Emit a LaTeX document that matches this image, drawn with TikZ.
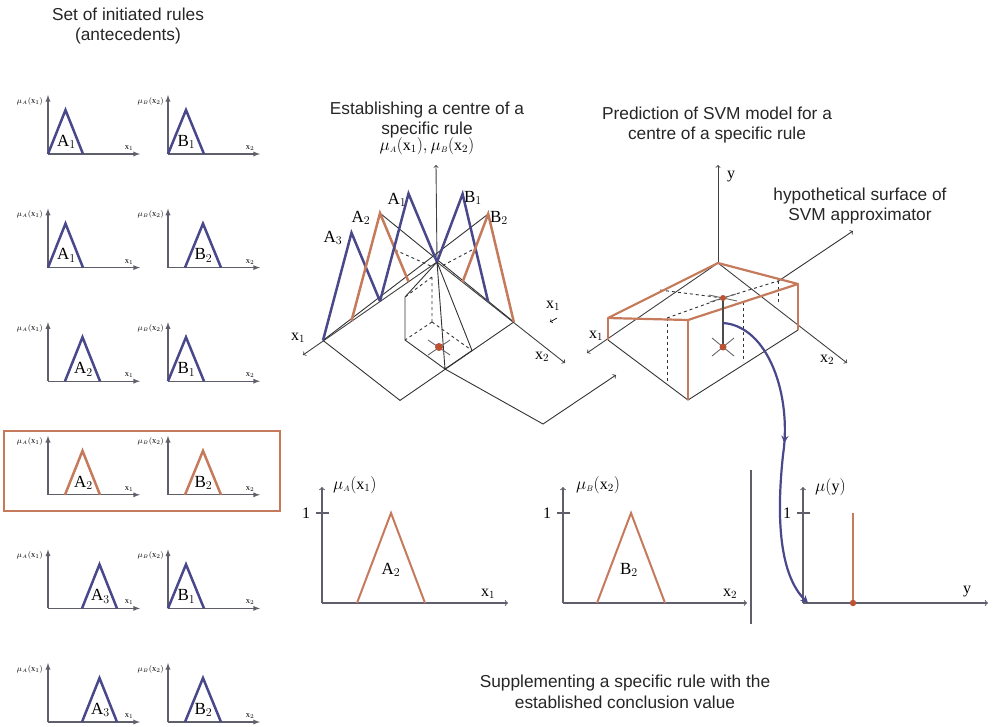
\documentclass[tikz,border=0pt]{standalone}
\usepackage{fontspec}
\setmainfont{Liberation Serif}
\newfontfamily\headfont{Liberation Sans}
\usetikzlibrary{arrows,positioning,calc,decorations.markings}
\definecolor{ruleblue}{RGB}{72,72,138}
\definecolor{rulebrown}{RGB}{198,122,92}
\definecolor{axisgray}{RGB}{95,95,108}
\definecolor{dotred}{RGB}{188,82,52}
\tikzset{
    head/.style={
        font=\headfont\fontsize{17.3}{20.5}\selectfont,
        align=center,
        text=black!85
    },
    smallaxis/.style={draw=axisgray, line width=1.3pt, -latex},
    bigaxis/.style={draw=axisgray, line width=1.1pt, -to},
    tick/.style={draw=axisgray, line width=1.1pt},
    axisthree/.style={draw=black!75, line width=0.9pt, -to},
    thinline/.style={draw=black!80, line width=0.9pt},
    hidden/.style={draw=black!80, line width=0.9pt, dash pattern=on 3pt off 3pt},
    memfun/.style={line width=2.5pt, line join=miter},
    surfline/.style={draw=rulebrown, line width=2.2pt, line join=round},
    tinylab/.style={font=\fontsize{8.5}{9}\selectfont, inner sep=0pt},
    trilab/.style={font=\fontsize{17}{17}\selectfont, inner sep=0pt},
    axlab/.style={font=\fontsize{16}{16}\selectfont, inner sep=0pt}
}

\begin{document}
\begin{tikzpicture}[x=1pt,y=-1pt]
\useasboundingbox (0,0) rectangle (993,726);

% Titles
\node[head] (rules-title) at (128,26) {Set of initiated rules\\(antecedents)};
\node[head] (centre-title) at (427,120) {Establishing a centre of a\\specific rule};
\node[head] (svm-title) at (717,125) {Prediction of SVM model for a\\centre of a specific rule};
\node[head] (surface-title) at (860,206) {hypothetical surface of\\SVM approximator};
\node[head] (supp-title) at (625,692) {Supplementing a specific rule with the\\established conclusion value};

% Antecedent panels
\foreach \i/\a/\b/\col in {1/1/1/ruleblue, 2/1/2/ruleblue, 3/2/1/ruleblue, 4/2/2/rulebrown, 5/3/1/ruleblue, 6/3/2/ruleblue}{
    \pgfmathsetmacro{\base}{154+113.6*(\i-1)}
    \pgfmathsetmacro{\ax}{48+17*(\a-1)}
    \pgfmathsetmacro{\bx}{168+17*(\b-1)}
    \draw[smallaxis] (48,\base) -- (48,\base-59);
    \draw[smallaxis] (48,\base) -- (140,\base);
    \draw[smallaxis] (168,\base) -- (168,\base-59);
    \draw[smallaxis] (168,\base) -- (260,\base);
    \draw[memfun, draw=\col] (\ax,\base) -- (\ax+17.5,\base-44) -- (\ax+35,\base);
    \draw[memfun, draw=\col] (\bx,\base) -- (\bx+18,\base-44) -- (\bx+36,\base);
    \node[trilab] (setA-\i) at (\ax+18.5,\base-12) {A$_{\a}$};
    \node[trilab] (setB-\i) at (\bx+18.5,\base-12) {B$_{\b}$};
    \node[tinylab, anchor=east] (muA-\i) at (43,\base-53) {$\mu_{\scriptscriptstyle A}(\mathrm{x}_1)$};
    \node[tinylab, anchor=east] (muB-\i) at (164,\base-53) {$\mu_{\scriptscriptstyle B}(\mathrm{x}_2)$};
    \node[tinylab] (xA-\i) at (129,\base-6) {x$_1$};
    \node[tinylab] (xB-\i) at (250,\base-6) {x$_2$};
}
\draw[draw=rulebrown, line width=2.4pt] (4,431) rectangle (280,511);

% Centre of the rule (3D)
\coordinate (o) at (437,262);
\coordinate (a1) at (408.5,281.6);
\coordinate (a2) at (380,301.2);
\coordinate (a3) at (351.5,320.8);
\coordinate (a4) at (323,340.4);
\coordinate (pa1) at (408.5,193.6);
\coordinate (pa2) at (380,213.2);
\coordinate (pa3) at (351.5,232.8);
\coordinate (b1) at (462.6,282);
\coordinate (b2) at (488.2,302);
\coordinate (b3) at (513.8,322);
\coordinate (pb1) at (462.6,194);
\coordinate (pb2) at (488.2,214);
\coordinate (floor) at (400,400.4);
\draw[axisthree] (o) -- (436,165);
\draw[axisthree] (o) -- (303,355);
\draw[axisthree] (o) -- (565,363);
\draw[thinline] (a4) -- (floor) -- (b3);
\draw[thinline] (pa2) -- (b3);
\draw[thinline] (pb2) -- (a4);
\node[font=\fontsize{16}{16}\selectfont] (mu-both) at (427,146) {$\mu_{\scriptscriptstyle A}(\mathrm{x}_1),\mu_{\scriptscriptstyle B}(\mathrm{x}_2)$};
\node[axlab] (x1-c) at (298,338) {x$_1$};
\node[axlab] (x2-c) at (542,357) {x$_2$};
\node[axlab] (x1-stray) at (553,306) {x$_1$};
\draw[line width=0.7pt, -to] (557,318) -- (550,322);
% prism of the rule
\coordinate (tl) at (405,297);
\coordinate (bl) at (405,340);
\coordinate (bt) at (445,369);
\coordinate (rt) at (472,350.5);
\coordinate (ht) at (432,277);
\coordinate (hb) at (432,322);
\coordinate (centre) at (439,347);
\draw[hidden] (ht) -- (hb) (hb) -- (bl) (hb) -- (rt) (ht) -- (tl);
\draw[hidden] (395,250) -- (433,267);
\draw[hidden] (472,250) -- (440,267);
\draw[thinline] (o) -- (tl) -- (bl) -- (bt) -- (rt) -- (o) (o) -- (bt);
\draw[thinline, draw=black!60] (428,340) -- (450,355) (428,355) -- (450,340);
\fill[dotred] (centre) circle (4pt);
% membership functions on the axes
\draw[memfun, draw=ruleblue] (a2) -- (pa3) -- (a4);
\draw[memfun, draw=rulebrown] (a1) -- (pa2) -- (a3);
\draw[memfun, draw=ruleblue] (o) -- (pa1) -- (a2);
\draw[memfun, draw=ruleblue] (o) -- (pb1) -- (b2);
\draw[memfun, draw=rulebrown] (b1) -- (pb2) -- (b3);
\node[trilab] (A1-c) at (397,200) {A$_1$};
\node[trilab] (A2-c) at (361,218) {A$_2$};
\node[trilab] (A3-c) at (333,238) {A$_3$};
\node[trilab] (B1-c) at (473,198) {B$_1$};
\node[trilab] (B2-c) at (499,218) {B$_2$};
% link to the SVM model
\coordinate (bend) at (543,424);
\draw[thinline, -to] (bt) -- (bend) -- (616,375);

% SVM model (3D)
\coordinate (o2) at (718,263);
\coordinate (ltop) at (608,318);
\coordinate (lbot) at (608,340);
\coordinate (ftop) at (688,320);
\coordinate (fbot) at (688,400);
\coordinate (rtop) at (798,284);
\coordinate (rbot) at (798,330);
\coordinate (ytop) at (723,298);
\coordinate (ybot) at (723,347);
\draw[axisthree] (o2) -- (718,165);
\node[axlab] (y-r) at (731,177) {y};
\draw[axisthree] (o2) -- (587,353);
\draw[axisthree] (o2) -- (847,363);
\node[axlab] (x1-r) at (596,336) {x$_1$};
\node[axlab] (x2-r) at (827,360) {x$_2$};
\draw[thinline, -to] (777,282) -- (853,231);
\draw[hidden] (667,318) -- (667,382) (743,302) -- (743,362) (778,281) -- (778,302);
\draw[hidden] (660,290) -- (ytop) -- (778,281);
\draw[hidden] (667,318) -- (ytop);
\draw[thinline] (lbot) -- (fbot) -- (rbot);
\draw[surfline] (ltop) -- (o2) -- (rtop) -- (ftop) -- cycle;
\draw[surfline] (ltop) -- (lbot) (ftop) -- (fbot) (rtop) -- (rbot);
\draw[thinline, draw=black!60] (712,338) -- (734,356) (712,356) -- (734,338);
\draw[thinline, draw=black!60] (709,295) -- (737,301) (710,302) -- (736,294);
\draw[line width=1.5pt, draw=black!70] (ytop) -- (ybot);
\fill[dotred] (ytop) circle (3pt);
\fill[dotred] (ybot) circle (3.5pt);

% Conclusion of the rule
\coordinate (oA) at (322,603);
\coordinate (oB) at (563,603);
\coordinate (oY) at (803,603);
\draw[bigaxis] (oA) -- (322,487);
\draw[bigaxis] (oA) -- (508,603);
\draw[tick] (316,513) -- (329,513);
\node[axlab] (oneA) at (306,513) {1};
\node[axlab, anchor=west] (muA-b) at (333,485) {$\mu_{\scriptscriptstyle A}(\mathrm{x}_1)$};
\draw[memfun, draw=rulebrown, line width=2pt] (357,603) -- (391,513) -- (425,603);
\node[trilab] (A2-b) at (391,570) {A$_2$};
\node[axlab] (x1-b) at (488,594) {x$_1$};
\draw[bigaxis] (oB) -- (563,487);
\draw[bigaxis] (oB) -- (747,603);
\draw[tick] (557,513) -- (570,513);
\node[axlab] (oneB) at (547,513) {1};
\node[axlab, anchor=west] (muB-b) at (576,485) {$\mu_{\scriptscriptstyle B}(\mathrm{x}_2)$};
\draw[memfun, draw=rulebrown, line width=2pt] (597,603) -- (631,513) -- (665,603);
\node[trilab] (B2-b) at (629,570) {B$_2$};
\node[axlab] (x2-b) at (730,594) {x$_2$};
\draw[tick] (751,470) -- (751,624);
\draw[bigaxis] (oY) -- (803,487);
\draw[bigaxis] (oY) -- (988,603);
\draw[tick] (797,513) -- (810,513);
\node[axlab] (oneY) at (787,513) {1};
\node[axlab, anchor=west] (muY) at (815,487) {$\mu(\mathrm{y})$};
\node[axlab] (y-b) at (967,592) {y};
\draw[draw=rulebrown, line width=2pt] (853,513) -- (853,603);
\fill[dotred] (853,603) circle (3.2pt);
% transfer of the predicted value
\coordinate (yend) at (808,603);
\draw[draw=ruleblue, line width=2.2pt, -stealth,
      decoration={markings, mark=at position 0.47 with {\arrow{stealth}}}, postaction=decorate]
    (723,323) .. controls (768,326) and (792,395) .. (783,455)
    .. controls (776,520) and (780,575) .. (yend);
\end{tikzpicture}
\end{document}
